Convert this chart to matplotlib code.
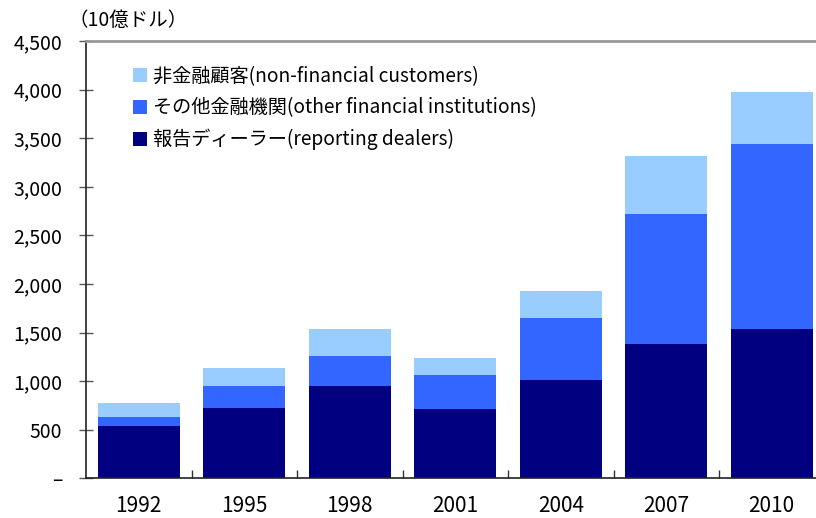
import matplotlib
matplotlib.use("Agg")
import matplotlib.pyplot as plt
import numpy as np

plt.rcParams['font.family'] = ['Noto Sans CJK JP', 'DejaVu Sans']

years = ["1992", "1995", "1998", "2001", "2004", "2007", "2010"]
dealers = [538, 724, 950, 713, 1012, 1383, 1537]
other_fin = [93, 226, 309, 350, 640, 1340, 1907]
non_fin = [144, 185, 278, 175, 278, 597, 535]
labels = ["報告ディーラー(reporting dealers)",
          "その他金融機関(other financial institutions)",
          "非金融顧客(non-financial customers)"]
colors = ["#000080", "#3366FF", "#99CCFF"]
yticks = [0, 500, 1000, 1500, 2000, 2500, 3000, 3500, 4000, 4500]
ytick_labels = ["–", "500", "1,000", "1,500", "2,000", "2,500", "3,000", "3,500", "4,000", "4,500"]

fig = plt.figure(figsize=(8.16, 5.18), dpi=100)
ax = fig.add_axes([86/816, 39.7/518, 738.5/816, 437.2/518])

x = np.arange(len(years))
w = 0.78
b1 = ax.bar(x, dealers, width=w, color=colors[0], label=labels[0])
bottom2 = np.array(dealers)
b2 = ax.bar(x, other_fin, width=w, bottom=bottom2, color=colors[1], label=labels[1])
bottom3 = bottom2 + np.array(other_fin)
b3 = ax.bar(x, non_fin, width=w, bottom=bottom3, color=colors[2], label=labels[2])

ax.set_xlim(-0.5, len(years) - 0.5)
ax.set_ylim(0, 4500)
ax.set_yticks(yticks)
ax.set_yticklabels(ytick_labels, fontsize=14)
ax.set_xticks(x)
ax.set_xticklabels(years, fontsize=15)
ax.set_xticks(np.arange(0.5, len(years) - 1, 1), minor=True)
ax.tick_params(axis='x', which='major', length=0, pad=12)
ax.tick_params(axis='x', which='minor', direction='in', length=6, width=1, color='#333333')
ax.tick_params(axis='y', direction='inout', length=10, width=1, color='#555555', pad=12)

for s in ['left', 'bottom']:
    ax.spines[s].set_color('#222222')
    ax.spines[s].set_linewidth(1.2)
ax.spines['top'].set_color('#999999')
ax.spines['top'].set_linewidth(2)
ax.spines['right'].set_visible(False)

handles = [b3, b2, b1]
leg = ax.legend(handles, [labels[2], labels[1], labels[0]], loc='upper left',
                bbox_to_anchor=(0.04, 0.983), frameon=False, fontsize=13.8,
                handlelength=0.75, handleheight=0.75, handletextpad=0.3,
                labelspacing=0.55)

fig.text(68/816, 1 - 20/518, "（10億ドル）", fontsize=14, va='center', ha='left')

fig.savefig("out.png", dpi=100)
